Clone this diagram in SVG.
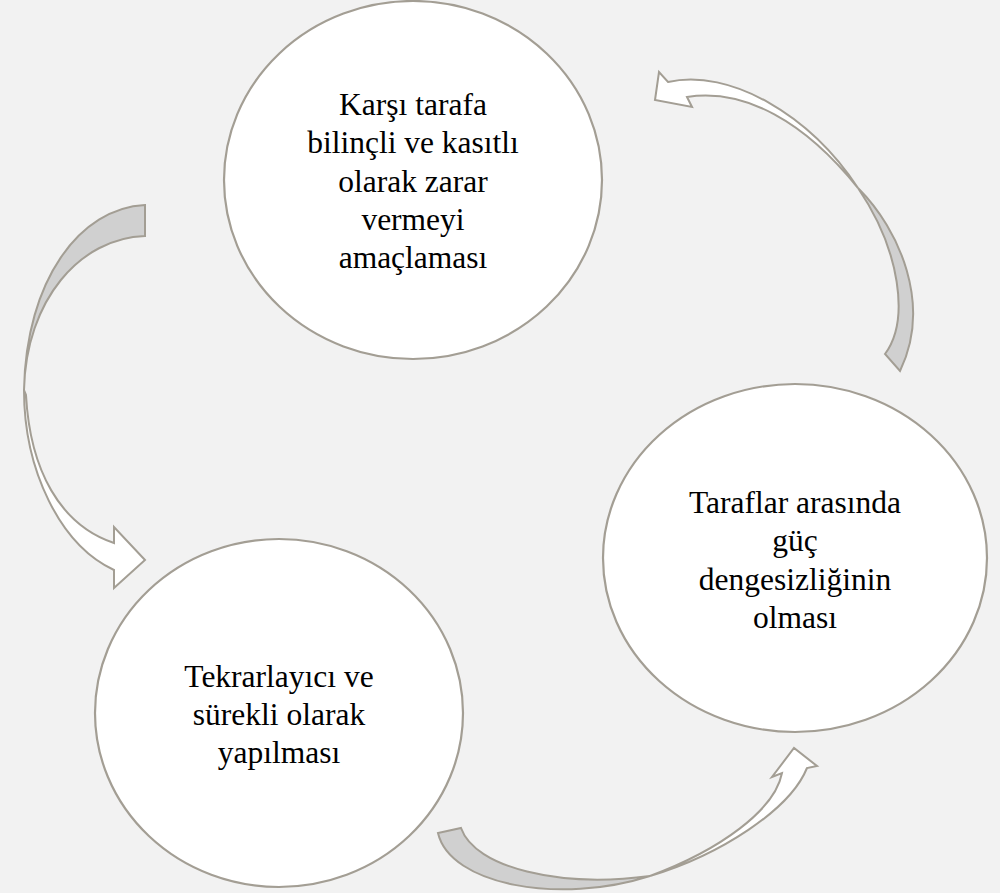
<svg xmlns="http://www.w3.org/2000/svg" width="1000" height="893" viewBox="0 0 1000 893">
<style>
.node{fill:#ffffff;stroke:#a39e94;stroke-width:2.2}
.lbl{font-family:"Liberation Serif","Times New Roman",serif;font-size:31.5px;fill:#000;text-anchor:middle}
.back{fill:#d0d0d0;stroke:#a39e94;stroke-width:2;stroke-linejoin:miter}
.front{fill:#ffffff;stroke:#a39e94;stroke-width:2;stroke-linejoin:miter}
</style>
<rect width="1000" height="893" fill="#f2f2f2"/>
<g id="connectors">
  <g id="arrow-left">
    <path class="back" d="M145,205 C80,208 26,280 24,390 C26,300 80,238 145,236 Z"/>
    <path class="front" d="M24,390 C24,470 60,545 114,570 L114,588 L145,560 L114,527 L114,543 C60,525 30,470 26,395 Z"/>
  </g>
  <g id="arrow-right">
    <path class="back" d="M858,188 C900,230 932,305 900,371 L885,354 C910,320 900,250 858,188 Z"/>
    <path class="front" d="M668,82 C730,68 810,115 858,188 C805,122 745,88 687,97 L692,107 L655,100 L659,72 Z"/>
  </g>
  <g id="arrow-bottom">
    <path class="back" d="M438,833 C450,885 560,905 650,876 C560,888 475,868 461,828 Z"/>
    <path class="front" d="M650,876 C720,855 790,810 807,768 L817,766 L794,748 L772,777 L782,773 C775,810 720,850 650,876 Z"/>
  </g>
</g>
<g id="node-top">
  <ellipse class="node" cx="413" cy="180" rx="189" ry="179"/>
  <text class="lbl" x="413" y="115">Karşı tarafa</text>
  <text class="lbl" x="413" y="153">bilinçli ve kasıtlı</text>
  <text class="lbl" x="413" y="192">olarak zarar</text>
  <text class="lbl" x="413" y="230">vermeyi</text>
  <text class="lbl" x="413" y="268">amaçlaması</text>
</g>
<g id="node-right">
  <ellipse class="node" cx="795" cy="558" rx="192" ry="174"/>
  <text class="lbl" x="795" y="513">Taraflar arasında</text>
  <text class="lbl" x="795" y="551">güç</text>
  <text class="lbl" x="795" y="590">dengesizliğinin</text>
  <text class="lbl" x="795" y="628">olması</text>
</g>
<g id="node-bottom-left">
  <ellipse class="node" cx="279" cy="713" rx="184" ry="174"/>
  <text class="lbl" x="279" y="687">Tekrarlayıcı ve</text>
  <text class="lbl" x="279" y="725">sürekli olarak</text>
  <text class="lbl" x="279" y="763">yapılması</text>
</g>
</svg>
